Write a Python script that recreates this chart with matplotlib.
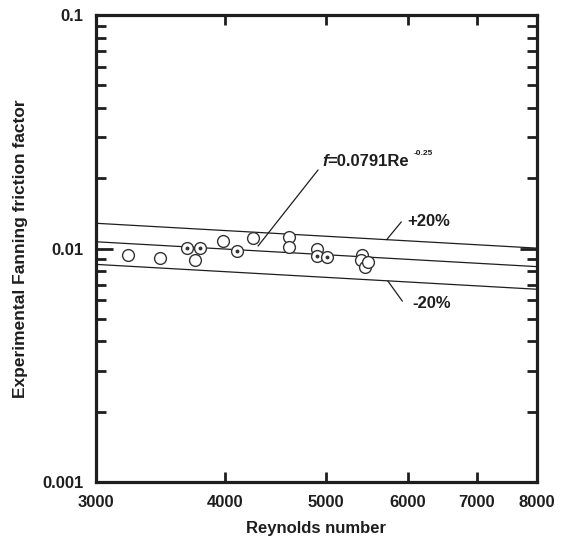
import matplotlib
matplotlib.use("Agg")
import matplotlib.pyplot as plt
from matplotlib.ticker import FixedLocator, NullLocator, NullFormatter
import numpy as np

plt.rcParams['font.family'] = ['Liberation Sans', 'DejaVu Sans']
plt.rcParams['font.weight'] = 'bold'

# ---- data ----
re_points = [3223, 3459, 3670, 3781, 3739, 3976, 4102, 4257, 4608, 4608,
             4901, 4901, 5011, 5417, 5405, 5457, 5498]
f_points = [0.00934, 0.00913, 0.01006, 0.0101, 0.00894, 0.01074, 0.00972,
            0.01110, 0.01119, 0.01019, 0.00999, 0.00928, 0.00921, 0.0094,
            0.00893, 0.0083, 0.00873]
dotted = [False, False, True, True, False, False, True, False, False, False,
          False, True, True, False, False, False, False]

coef = 0.0791
expo = -0.25
band = 0.20
re_range = [3000, 8000]

x_ticks = [3000, 4000, 5000, 6000, 7000, 8000]
x_labels = ['3000', '4000', '5000', '6000', '7000', '8000']
y_ticks = [0.001, 0.01, 0.1]
y_labels = ['0.001', '0.01', '0.1']

ink = '#1e1e1e'

fig = plt.figure(figsize=(5.63, 5.46), dpi=100)
ax = fig.add_axes([0.1705, 0.1172, 0.7833, 0.8553])
ax.set_xscale('log')
ax.set_yscale('log')
ax.set_xlim(re_range)
ax.set_ylim(0.001, 0.1)

re_line = np.geomspace(re_range[0], re_range[1], 200)
f_line = coef * re_line ** expo
ax.plot(re_line, f_line, color=ink, lw=0.9, zorder=2)
ax.plot(re_line, f_line * (1 + band), color=ink, lw=0.9, zorder=2)
ax.plot(re_line, f_line * (1 - band), color=ink, lw=0.9, zorder=2)

ax.plot(re_points, f_points, linestyle='none', marker='o', ms=8.5,
        mfc='white', mec='#333333', mew=1.0, zorder=3)
re_d = [r for r, d in zip(re_points, dotted) if d]
f_d = [f for f, d in zip(f_points, dotted) if d]
ax.plot(re_d, f_d, linestyle='none', marker='o', ms=1.8, color='#333333', zorder=4)

# annotations
ax.annotate('', xy=(4302, 0.01025), xytext=(4916, 0.0217),
            arrowprops=dict(arrowstyle='-', color=ink, lw=0.9, shrinkA=0, shrinkB=0))
t1 = ax.text(4960, 0.0237, 'f', fontsize=12, style='italic', fontweight='bold',
             color=ink, ha='left', va='center')
t2 = ax.annotate('=0.0791Re', xy=(1, 0), xycoords=t1, xytext=(0, 0),
                 textcoords='offset points', fontsize=12, fontweight='bold',
                 color=ink, ha='left', va='bottom')
ax.annotate('-0.25', xy=(1, 1), xycoords=t2, xytext=(3, 0),
            textcoords='offset points', fontsize=6, fontweight='bold',
            color=ink, ha='left', va='center')

ax.annotate('', xy=(5726, 0.01091), xytext=(5916, 0.0130),
            arrowprops=dict(arrowstyle='-', color=ink, lw=0.9, shrinkA=0, shrinkB=0))
ax.text(6000, 0.0131, '+20%', fontsize=12, color=ink, ha='left', va='center')

ax.annotate('', xy=(5740, 0.00727), xytext=(5930, 0.00595),
            arrowprops=dict(arrowstyle='-', color=ink, lw=0.9, shrinkA=0, shrinkB=0))
ax.text(6060, 0.0058, '-20%', fontsize=12, color=ink, ha='left', va='center')

# ticks
ax.xaxis.set_major_locator(FixedLocator(x_ticks))
ax.set_xticklabels(x_labels)
ax.xaxis.set_minor_locator(NullLocator())
ax.yaxis.set_major_locator(FixedLocator(y_ticks))
ax.set_yticklabels(y_labels)
ax.yaxis.set_minor_locator(FixedLocator([m * d for d in (0.001, 0.01) for m in range(2, 10)]))
ax.yaxis.set_minor_formatter(NullFormatter())

ax.tick_params(axis='both', which='both', direction='in', top=True, right=True,
               colors=ink, labelsize=12, pad=9)
ax.tick_params(axis='x', which='major', length=7, width=2)
ax.tick_params(axis='y', which='major', length=12, width=2)
ax.tick_params(axis='y', which='minor', length=7, width=2)
for lab in ax.get_xticklabels() + ax.get_yticklabels():
    lab.set_fontweight('bold')

for s in ax.spines.values():
    s.set_linewidth(2.3)
    s.set_color(ink)

ax.set_xlabel('Reynolds number', fontsize=12, fontweight='bold', color=ink, labelpad=8)
ax.set_ylabel('Experimental Fanning friction factor', fontsize=12.5, fontweight='bold',
              color=ink, labelpad=10)

fig.savefig('out.png', dpi=100)
